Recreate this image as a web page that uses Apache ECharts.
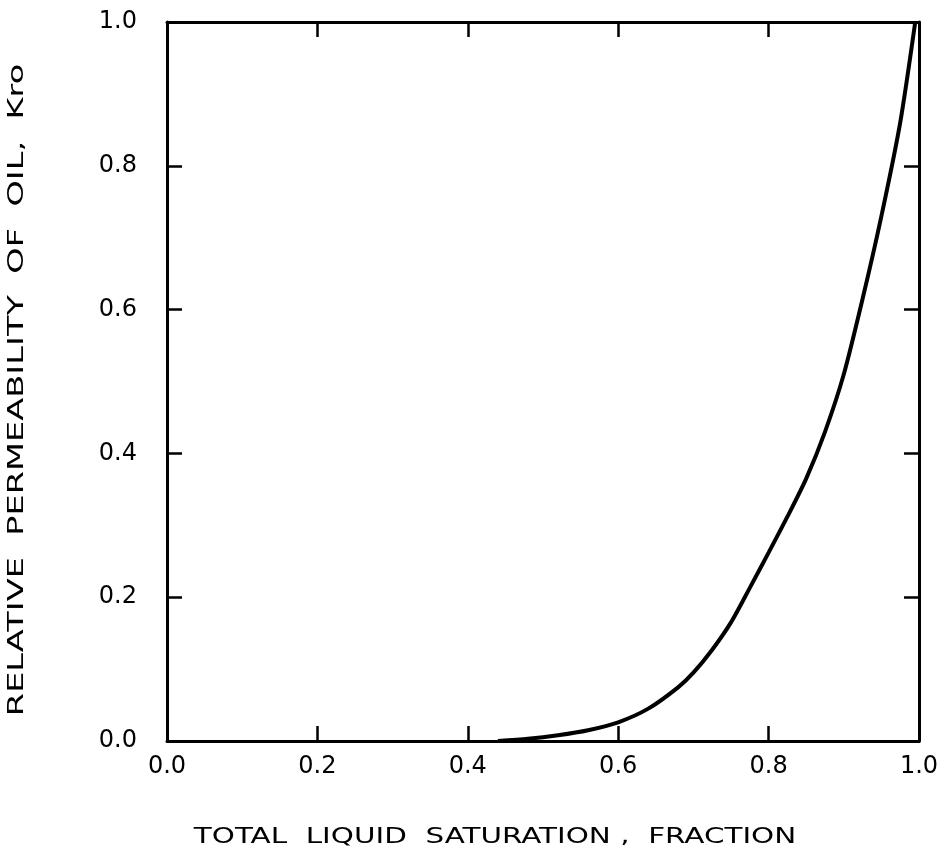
<!DOCTYPE html>
<html>
<head>
<meta charset="utf-8">
<script src="https://cdn.jsdelivr.net/npm/echarts@6/dist/echarts.min.js"></script>
<style>
  html, body { margin: 0; padding: 0; background: #fff; }
  #main { width: 949px; height: 856px; }
</style>
</head>
<body>
<div id="main"></div>
<script>
// liquid saturation vs Kro
var saturation = [0.44, 0.48, 0.52, 0.56, 0.60, 0.64, 0.68, 0.70, 0.725, 0.75, 0.775, 0.80, 0.825, 0.85, 0.875, 0.90, 0.925, 0.95, 0.975, 0.995];
var kro        = [0.0, 0.003, 0.008, 0.015, 0.026, 0.045, 0.075, 0.095, 0.127, 0.165, 0.213, 0.262, 0.312, 0.365, 0.43, 0.51, 0.615, 0.73, 0.86, 1.0];
var xTicks = [0.0, 0.2, 0.4, 0.6, 0.8, 1.0];
var yTicks = [0.0, 0.2, 0.4, 0.6, 0.8, 1.0];
var xTitle = 'TOTAL  LIQUID  SATURATION ,  FRACTION';
var yTitle = 'RELATIVE  PERMEABILITY  OF  OIL,  Kro';

var myChart = echarts.init(document.getElementById('main'));

var pts = [];
for (var i = 0; i < saturation.length; i++) {
  pts.push([saturation[i], kro[i]]);
}

var FONT = 'DejaVu Sans';
var frame = { color: '#000', width: 3 };

function fmt (v) {
  return v.toFixed(1);
}

// 4 axes so the box has ticks on every side, all pointing inward
function xAx (pos, labels) {
  return {
    type: 'value', position: pos,
    min: xTicks[0], max: xTicks[xTicks.length - 1], interval: 0.2,
    axisLine: { onZero: false, lineStyle: frame },
    axisTick: { inside: true, length: 15, lineStyle: { color: '#000', width: 2.5 } },
    axisLabel: { show: labels, fontFamily: FONT, fontSize: 24, color: '#000', margin: 14, formatter: fmt },
    splitLine: { show: false }
  };
}
function yAx (pos, labels) {
  return {
    type: 'value', position: pos,
    min: yTicks[0], max: yTicks[yTicks.length - 1], interval: 0.2,
    axisLine: { onZero: false, lineStyle: frame },
    axisTick: { inside: true, length: 15, lineStyle: { color: '#000', width: 2.5 } },
    axisLabel: { show: labels, fontFamily: FONT, fontSize: 24, color: '#000', margin: 30, formatter: fmt },
    splitLine: { show: false }
  };
}

var option = {
  backgroundColor: '#fff',
  animation: false,
  grid: { left: 167, right: 30, top: 22, bottom: 115 },
  xAxis: [xAx('bottom', true), xAx('top', false)],
  yAxis: [yAx('left', true), yAx('right', false)],
  graphic: [
    {
      type: 'text', x: 495, y: 838, scaleX: 1.4,
      style: { text: xTitle, font: '21px "DejaVu Sans"', fill: '#000', align: 'center', verticalAlign: 'middle' }
    },
    {
      type: 'text', x: 18, y: 390, rotation: Math.PI / 2, scaleX: 1.6,
      style: { text: yTitle, font: '21px "DejaVu Sans"', fill: '#000', align: 'center', verticalAlign: 'middle' }
    }
  ],
  series: [
    {
      type: 'line',
      data: pts,
      smooth: 0.25,
      showSymbol: false,
      lineStyle: { color: '#000', width: 4 }
    }
  ]
};

myChart.setOption(option);
</script>
</body>
</html>
